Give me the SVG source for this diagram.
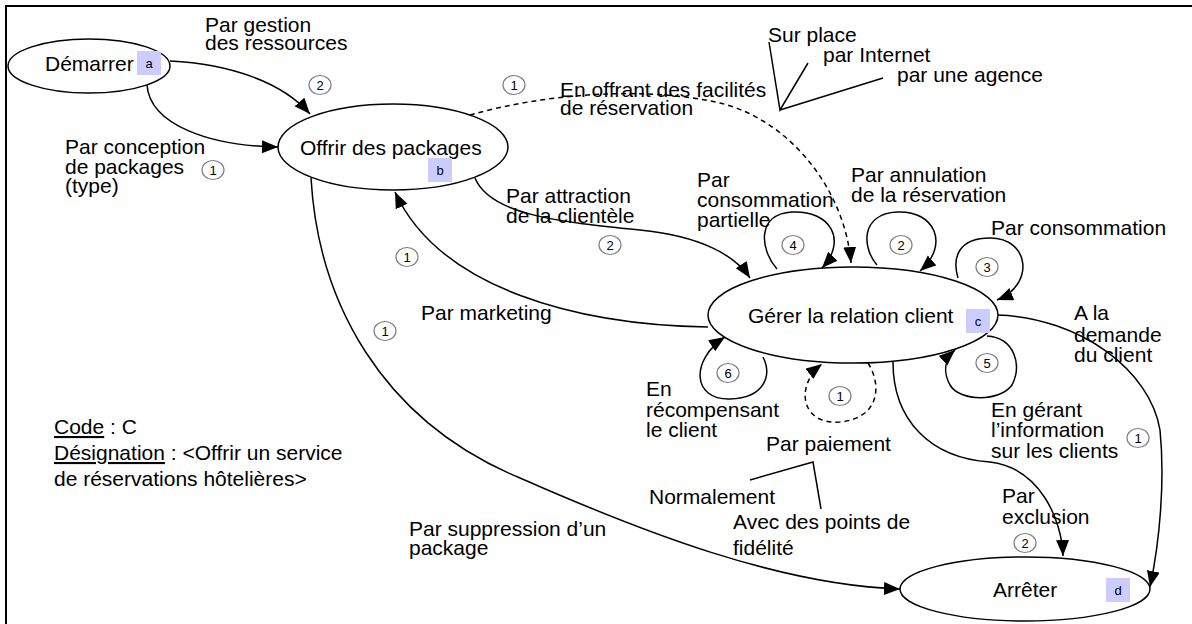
<svg xmlns="http://www.w3.org/2000/svg" width="1192" height="624" viewBox="0 0 1192 624">
<style>
text{font-family:"Liberation Sans",Arial,sans-serif;fill:#000}
.t{font-size:21px}
.node{fill:#fff;stroke:#000;stroke-width:1.5}
.tag{fill:#ccccff}
.tagt{font-size:13px;text-anchor:middle}
.c{fill:none;stroke:#000;stroke-width:1.5}
.d{stroke-dasharray:5,4}
.num{fill:#fff;stroke:#808080;stroke-width:1.2}
.numt{font-size:13px;text-anchor:middle}
.ln{stroke:#000;stroke-width:1.5;fill:none}
</style>
<defs>
<marker id="ah" markerUnits="userSpaceOnUse" markerWidth="18" markerHeight="14" refX="16" refY="6.5" orient="auto" viewBox="0 0 18 14">
<path d="M0,0 L16,6.5 L0,13 z" fill="#000"/>
</marker>
</defs>
<rect x="0" y="0" width="1192" height="624" fill="#fff"/>
<path d="M6,624 L6,6 L1192,6" fill="none" stroke="#000" stroke-width="2"/>

<g id="connectors">
<path class="c" d="M170,61 C230,64 282,82 310,114" marker-end="url(#ah)"/>
<path class="c" d="M147,85 C150,125 210,146 278,147" marker-end="url(#ah)"/>
<path class="c d" d="M470,115 C540,95 640,85 720,103 C790,120 845,190 851,263" marker-end="url(#ah)"/>
<path class="c" d="M475,178 C490,215 560,222 640,230 C700,236 735,255 750,278" marker-end="url(#ah)"/>
<path class="c" d="M708,327 C580,325 440,290 395,192" marker-end="url(#ah)"/>
<path class="c" d="M311,178 C318,300 380,420 520,478 C645,533 780,585 900,589" marker-end="url(#ah)"/>
<path class="c" d="M777,269 C760,250 756,214 792,212 C830,210 848,240 822,268" marker-end="url(#ah)"/>
<path class="c" d="M877,265 C862,248 860,214 897,212 C935,210 950,245 920,271" marker-end="url(#ah)"/>
<path class="c" d="M958,278 C952,258 958,238 990,238 C1030,238 1035,285 997,300" marker-end="url(#ah)"/>
<path class="c" d="M987,336 C1015,338 1022,365 1012,385 C1000,402 960,402 950,385 C942,370 946,358 955,350" marker-end="url(#ah)"/>
<path class="c" d="M763,357 C772,375 765,398 730,399 C692,400 690,360 725,337" marker-end="url(#ah)"/>
<path class="c d" d="M868,363 C882,385 880,418 840,422 C800,425 795,385 822,364" marker-end="url(#ah)"/>
<path class="c" d="M998,315 C1080,318 1150,370 1160,430 C1165,480 1160,540 1150,587" marker-end="url(#ah)"/>
<path class="c" d="M893,362 C893,420 930,458 990,462 C1040,468 1062,520 1063,556" marker-end="url(#ah)"/>
<path class="ln" d="M769,42 L780,110 L808,63 M780,110 L883,78"/>
<path class="ln" d="M750,480 L813,462 L821,509"/>
</g>

<g id="numbers">
<ellipse class="num" cx="320" cy="85" rx="11" ry="9.5"/><text class="numt" x="320" y="90">2</text>
<ellipse class="num" cx="213" cy="170" rx="11" ry="9.5"/><text class="numt" x="213" y="175">1</text>
<ellipse class="num" cx="514" cy="85" rx="11" ry="9.5"/><text class="numt" x="514" y="90">1</text>
<ellipse class="num" cx="610" cy="245" rx="11" ry="9.5"/><text class="numt" x="610" y="250">2</text>
<ellipse class="num" cx="407" cy="257" rx="11" ry="9.5"/><text class="numt" x="407" y="262">1</text>
<ellipse class="num" cx="385" cy="331" rx="11" ry="9.5"/><text class="numt" x="385" y="336">1</text>
<ellipse class="num" cx="793" cy="245" rx="11" ry="9.5"/><text class="numt" x="793" y="250">4</text>
<ellipse class="num" cx="901" cy="245" rx="11" ry="9.5"/><text class="numt" x="901" y="250">2</text>
<ellipse class="num" cx="987" cy="267" rx="11" ry="9.5"/><text class="numt" x="987" y="272">3</text>
<ellipse class="num" cx="987" cy="363" rx="11" ry="9.5"/><text class="numt" x="987" y="368">5</text>
<ellipse class="num" cx="728" cy="373" rx="11" ry="9.5"/><text class="numt" x="728" y="378">6</text>
<ellipse class="num" cx="840" cy="396" rx="11" ry="9.5"/><text class="numt" x="840" y="401">1</text>
<ellipse class="num" cx="1138" cy="438" rx="11" ry="9.5"/><text class="numt" x="1138" y="443">1</text>
<ellipse class="num" cx="1025" cy="543" rx="11" ry="9.5"/><text class="numt" x="1025" y="548">2</text>
</g>

<g id="labels" class="t">
<text x="205" y="32">Par gestion</text>
<text x="205" y="50">des ressources</text>
<text x="65" y="154">Par conception</text>
<text x="65" y="174">de packages</text>
<text x="65" y="193">(type)</text>
<text x="560" y="97">En offrant des facilités</text>
<text x="560" y="115">de réservation</text>
<text x="768" y="42">Sur place</text>
<text x="823" y="62">par Internet</text>
<text x="897" y="82">par une agence</text>
<text x="851" y="182">Par annulation</text>
<text x="851" y="202">de la réservation</text>
<text x="697" y="187">Par</text>
<text x="697" y="207">consommation</text>
<text x="697" y="227">partielle</text>
<text x="991" y="235">Par consommation</text>
<text x="506" y="203">Par attraction</text>
<text x="506" y="223">de la clientèle</text>
<text x="421" y="320">Par marketing</text>
<text x="1074" y="320">A la</text>
<text x="1074" y="342">demande</text>
<text x="1074" y="362">du client</text>
<text x="646" y="396">En</text>
<text x="646" y="417">récompensant</text>
<text x="646" y="437">le client</text>
<text x="991" y="417">En gérant</text>
<text x="991" y="437">l’information</text>
<text x="991" y="458">sur les clients</text>
<text x="766" y="451">Par paiement</text>
<text x="649" y="504">Normalement</text>
<text x="733" y="529">Avec des points de</text>
<text x="733" y="555">fidélité</text>
<text x="1002" y="503">Par</text>
<text x="1002" y="524">exclusion</text>
<text x="409" y="536">Par suppression d’un</text>
<text x="409" y="555">package</text>
<text x="54" y="434"><tspan text-decoration="underline">Code</tspan> : C</text>
<text x="54" y="460"><tspan text-decoration="underline">Désignation</tspan> : &lt;Offrir un service</text>
<text x="54" y="486">de réservations hôtelières&gt;</text>
</g>

<g id="node-a">
<ellipse class="node" cx="89" cy="66" rx="81" ry="27"/>
<text class="t" x="45" y="71">Démarrer</text>
<rect class="tag" x="137" y="51" width="24" height="24"/>
<text class="tagt" x="149" y="68">a</text>
</g>
<g id="node-b">
<ellipse class="node" cx="393" cy="147" rx="115" ry="43"/>
<text class="t" x="300" y="155">Offrir des packages</text>
<rect class="tag" x="428" y="158" width="24" height="24"/>
<text class="tagt" x="440" y="175">b</text>
</g>
<g id="node-c">
<ellipse class="node" cx="853" cy="315" rx="145" ry="48"/>
<text class="t" x="748" y="323">Gérer la relation client</text>
<rect class="tag" x="966" y="309" width="24" height="24"/>
<text class="tagt" x="978" y="326">c</text>
</g>
<g id="node-d">
<ellipse class="node" cx="1025" cy="589" rx="125" ry="32"/>
<text class="t" x="993" y="597">Arrêter</text>
<rect class="tag" x="1106" y="578" width="24" height="24"/>
<text class="tagt" x="1118" y="595">d</text>
</g>
</svg>
